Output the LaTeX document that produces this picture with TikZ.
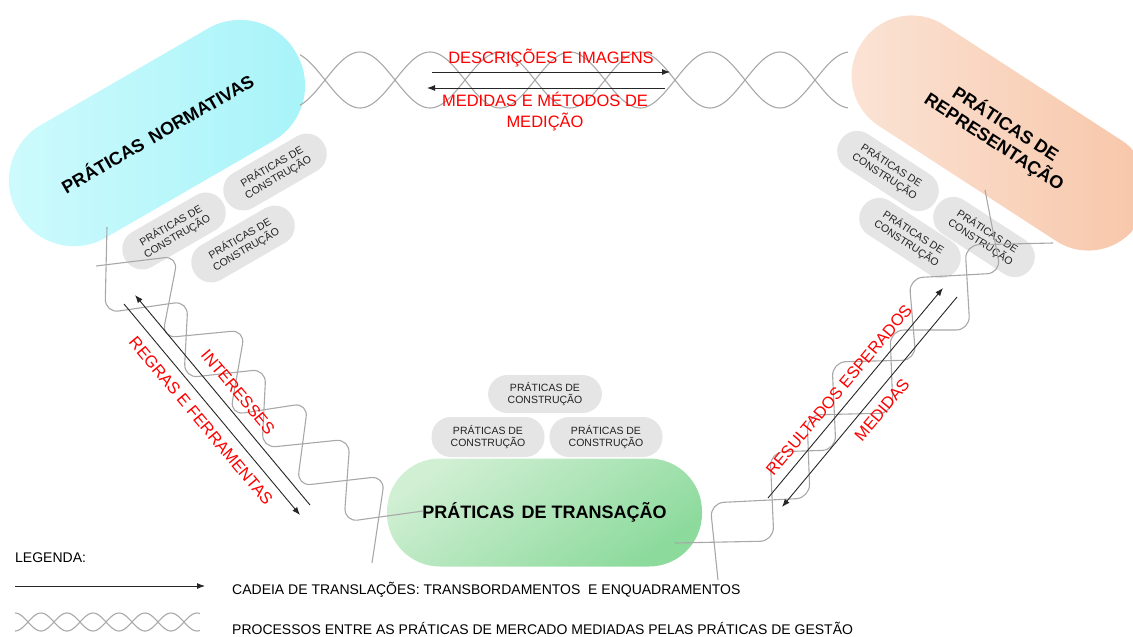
\documentclass[tikz,border=0pt]{standalone}
\usepackage{fontspec}
\setmainfont{Liberation Sans}
\usetikzlibrary{arrows.meta}
\definecolor{wavegray}{RGB}{168,168,168}
\definecolor{pillgray}{RGB}{229,229,229}
\definecolor{pilltext}{RGB}{35,35,35}
\definecolor{lblred}{RGB}{255,0,0}
\definecolor{cyanA}{RGB}{208,251,253}
\definecolor{cyanB}{RGB}{165,243,248}
\definecolor{peachA}{RGB}{251,229,216}
\definecolor{peachB}{RGB}{247,196,165}
\definecolor{greenA}{RGB}{208,239,211}
\definecolor{greenB}{RGB}{140,218,156}
\begin{document}
\begin{tikzpicture}[x=1pt,y=-1pt,
  wave/.style={draw=wavegray, line width=1.1pt},
  stair/.style={wave, rounded corners=14pt},
  arr/.style={-{Latex[length=8pt,width=6pt]}, line width=0.9pt, draw=black!85},
  pill/.style={fill=pillgray, rounded corners=19.5pt, minimum width=113pt, minimum height=40pt, inner sep=0pt, text=pilltext, align=center, font=\fontsize{10.5}{12.5}\selectfont},
  blob/.style={inner sep=0pt, align=center, font=\bfseries\fontsize{18}{21}\selectfont},
  lbl/.style={text=lblred, font=\fontsize{16.5}{21}\selectfont, align=center, inner sep=0pt},
  legtxt/.style={font=\fontsize{14}{16}\selectfont, anchor=west, inner sep=0pt}
]
\useasboundingbox (0,0) rectangle (1133,637);

% main blobs
\node[blob, rotate=30, minimum width=321pt, minimum height=130pt, rounded corners=64pt,
      left color=cyanA, right color=cyanB] (norm) at (157,133) {PRÁTICAS\hspace{0.45em}NORMATIVAS};
\node[blob, rotate=-33, minimum width=330pt, minimum height=120pt, rounded corners=59pt,
      left color=peachA, right color=peachB] (repr) at (1000,133) {PRÁTICAS DE\\REPRESENTAÇÃO};
\node[blob, minimum width=315pt, minimum height=108pt, rounded corners=53pt,
      shading=axis, top color=greenA, bottom color=greenB, shading angle=35] (trans) at (544.5,512.5) {PRÁTICAS\hspace{0.4em}DE TRANSAÇÃO};

% construction pills
\node[pill, rotate=30] (pa) at (275,172) {PRÁTICAS DE\\CONSTRUÇÃO};
\node[pill, rotate=30] (pb) at (174,231) {PRÁTICAS DE\\CONSTRUÇÃO};
\node[pill, rotate=30] (pc) at (243,244) {PRÁTICAS DE\\CONSTRUÇÃO};
\node[pill, rotate=-33] (pd) at (888,171) {PRÁTICAS DE\\CONSTRUÇÃO};
\node[pill, rotate=-33] (pe) at (910,238) {PRÁTICAS DE\\CONSTRUÇÃO};
\node[pill, rotate=-33] (pf) at (984,237) {PRÁTICAS DE\\CONSTRUÇÃO};
\node[pill, minimum width=114pt, minimum height=38pt] (pg) at (545,394) {PRÁTICAS DE\\CONSTRUÇÃO};
\node[pill] (ph) at (488,437) {PRÁTICAS DE\\CONSTRUÇÃO};
\node[pill] (pi) at (606,437) {PRÁTICAS DE\\CONSTRUÇÃO};

% processes (double waves)
\draw[wave] plot[domain=300:848, samples=220] (\x,{80+28*sin(2.571429*(\x-325))});
\draw[wave] plot[domain=300:848, samples=220] (\x,{80-28*sin(2.571429*(\x-325))});

\draw[stair] (96,266) -- (178,256) -- (162,338) -- (245,330) -- (230,415) -- (308,403) -- (297,486) -- (385,476) -- (372,563);
\draw[stair] (107,227) -- (105,313) -- (188,301) -- (184,378) -- (266,369) -- (262,448) -- (350,439) -- (344,522) -- (423,511);

\draw[stair] (985,190) -- (1001,273) -- (909,278) -- (916,360) -- (832,362) -- (836,450) -- (770,452) -- (774,541) -- (675,543);
\draw[stair] (1053,243) -- (965,245) -- (970,330) -- (890,330) -- (893,413) -- (807,415) -- (810,498) -- (710,503) -- (718,580);

% translation chains (arrows)
\coordinate (t1s) at (432,72);  \coordinate (t1e) at (670,72);
\coordinate (t2s) at (665,88);  \coordinate (t2e) at (427,88);
\draw[arr] (t1s) -- (t1e);
\draw[arr] (t2s) -- (t2e);
\coordinate (l1s) at (310,505); \coordinate (l1e) at (135,295);
\coordinate (l2s) at (124,304); \coordinate (l2e) at (300,515);
\draw[arr] (l1s) -- (l1e);
\draw[arr] (l2s) -- (l2e);
\coordinate (r1s) at (768,498); \coordinate (r1e) at (943,288);
\coordinate (r2s) at (957,297); \coordinate (r2e) at (782,507);
\draw[arr] (r1s) -- (r1e);
\draw[arr] (r2s) -- (r2e);

% red labels
\node[lbl] (desc) at (551,58) {DESCRIÇÕES E IMAGENS};
\node[lbl] (med) at (545,112) {MEDIDAS E MÉTODOS DE\\MEDIÇÃO};
\node[lbl, rotate=-50] (inter) at (238,392) {INTERESSES};
\node[lbl, rotate=-50] (regras) at (201,421) {REGRAS E FERRAMENTAS};
\node[lbl, rotate=50] (resul) at (839,390) {RESULTADOS ESPERADOS};
\node[lbl, rotate=50] (medidas) at (882,410) {MEDIDAS};

% legend
\node[legtxt] (leg) at (15,558) {LEGENDA:};
\coordinate (lga) at (15,586); \coordinate (lgb) at (205,586);
\draw[arr] (lga) -- (lgb);
\draw[wave] plot[domain=15:200, samples=120] (\x,{622+9*sin(6.923077*(\x-28))});
\draw[wave] plot[domain=15:200, samples=120] (\x,{622-9*sin(6.923077*(\x-28))});
\node[legtxt] (lg1) at (232,590) {CADEIA DE TRANSLAÇÕES: TRANSBORDAMENTOS\ \ E ENQUADRAMENTOS};
\node[legtxt] (lg2) at (232,628) {PROCESSOS ENTRE AS PRÁTICAS DE MERCADO MEDIADAS PELAS PRÁTICAS DE GESTÃO};
\end{tikzpicture}
\end{document}
